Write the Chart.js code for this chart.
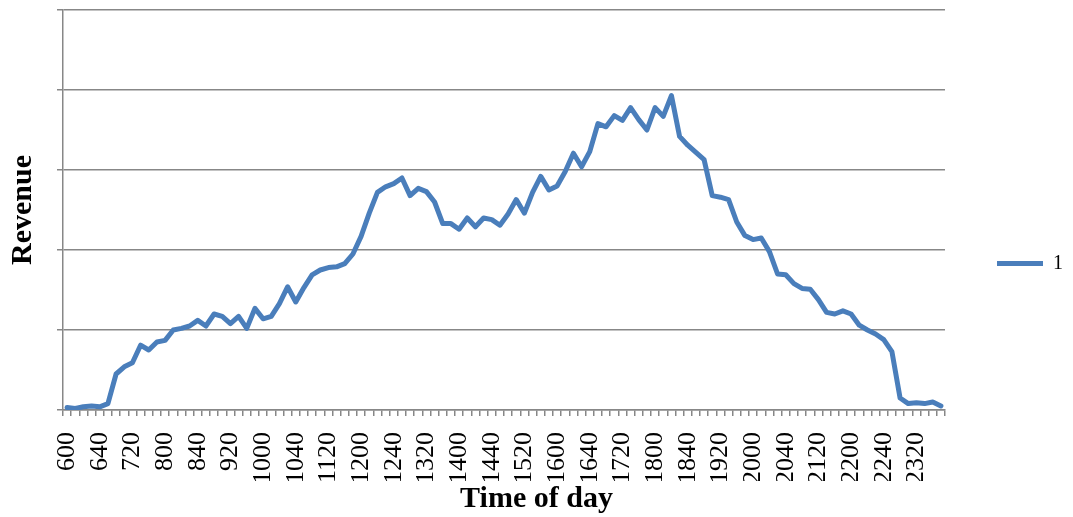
<!DOCTYPE html>
<html>
<head>
<meta charset="utf-8">
<title>Revenue by time of day</title>
<script src="https://cdn.jsdelivr.net/npm/chart.js@4/dist/chart.umd.min.js"></script>
<style>
  html, body { margin: 0; padding: 0; background: #fff; }
</style>
</head>
<body>
<canvas id="revenueChart" width="1073" height="517"></canvas>
<script>
// time of day, one slot every 10 minutes
const times = [
  '600', '610', '620', '630', '640', '650',
  '700', '710', '720', '730', '740', '750',
  '800', '810', '820', '830', '840', '850',
  '900', '910', '920', '930', '940', '950',
  '1000', '1010', '1020', '1030', '1040', '1050',
  '1100', '1110', '1120', '1130', '1140', '1150',
  '1200', '1210', '1220', '1230', '1240', '1250',
  '1300', '1310', '1320', '1330', '1340', '1350',
  '1400', '1410', '1420', '1430', '1440', '1450',
  '1500', '1510', '1520', '1530', '1540', '1550',
  '1600', '1610', '1620', '1630', '1640', '1650',
  '1700', '1710', '1720', '1730', '1740', '1750',
  '1800', '1810', '1820', '1830', '1840', '1850',
  '1900', '1910', '1920', '1930', '1940', '1950',
  '2000', '2010', '2020', '2030', '2040', '2050',
  '2100', '2110', '2120', '2130', '2140', '2150',
  '2200', '2210', '2220', '2230', '2240', '2250',
  '2300', '2310', '2320', '2330', '2340', '2350'
]

const revenue = [
  3, 2, 4, 5, 4, 8, 45, 54, 59, 81,
  75, 85, 87, 100, 102, 105, 112, 105, 120, 117,
  108, 117, 102, 127, 114, 117, 133, 154, 135, 153,
  169, 175, 178, 179, 183, 195, 217, 246, 272, 279,
  283, 290, 268, 277, 273, 260, 233, 233, 226, 240,
  229, 240, 238, 231, 245, 263, 246, 272, 292, 275,
  280, 298, 321, 304, 323, 358, 354, 368, 362, 378,
  363, 350, 378, 367, 393, 342, 331, 322, 313, 268,
  266, 263, 235, 218, 213, 215, 198, 170, 169, 158,
  152, 151, 138, 122, 120, 124, 120, 106, 100, 95,
  88, 73, 15, 8, 9, 8, 10, 5
]

const seriesName = '1'
const yMax = 500
const yStep = 100
const labelEvery = 4

const serif = "'Liberation Serif', 'Times New Roman', serif"
const grey = '#878787'

const ctx = document.getElementById('revenueChart').getContext('2d');
new Chart(ctx, {
  type: 'line',
  data: {
    labels: times,
    datasets: [{
      label: seriesName,
      data: revenue,
      borderColor: '#4a7ebb',
      backgroundColor: '#4a7ebb',
      borderWidth: 5,
      borderJoinStyle: 'round',
      borderCapStyle: 'round',
      pointRadius: 0,
      tension: 0
    }]
  },
  options: {
    responsive: false,
    animation: false,
    layout: { padding: { top: 10 } },
    plugins: {
      tooltip: { enabled: false },
      legend: {
        position: 'right',
        labels: {
          usePointStyle: true,
          pointStyle: 'line',
          pointStyleWidth: 46,
          padding: 52,
          color: '#000',
          font: { family: serif, size: 20 }
        }
      },
      title: {
        display: true,
        text: 'Time of day',
        position: 'bottom',
        color: '#000',
        padding: 0,
        font: { family: serif, size: 30, weight: 'bold' }
      }
    },
    scales: {
      x: {
        offset: true,
        grid: {
          offset: true,
          drawOnChartArea: false,
          tickLength: 6,
          color: grey,
          lineWidth: 1.5
        },
        border: { color: grey, width: 1.5 },
        ticks: {
          autoSkip: false,
          minRotation: 90,
          maxRotation: 90,
          padding: 16,
          color: '#000',
          font: { family: serif, size: 26 },
          callback: function (value, i) {
            return i % labelEvery === 0 ? this.getLabelForValue(value) : ''
          }
        },
        afterFit: (scale) => { scale.height = 71 }
      },
      y: {
        min: 0,
        max: yMax,
        grid: { color: grey, lineWidth: 1.5, tickLength: 6 },
        border: { color: grey, width: 1.5 },
        ticks: { stepSize: yStep, display: false },
        title: {
          display: true,
          text: 'Revenue',
          color: '#000',
          padding: { top: 5, bottom: 0 },
          font: { family: serif, size: 30, weight: 'bold' }
        },
        afterFit: (scale) => { scale.width = 63 }
      }
    }
  }
});
</script>
</body>
</html>
